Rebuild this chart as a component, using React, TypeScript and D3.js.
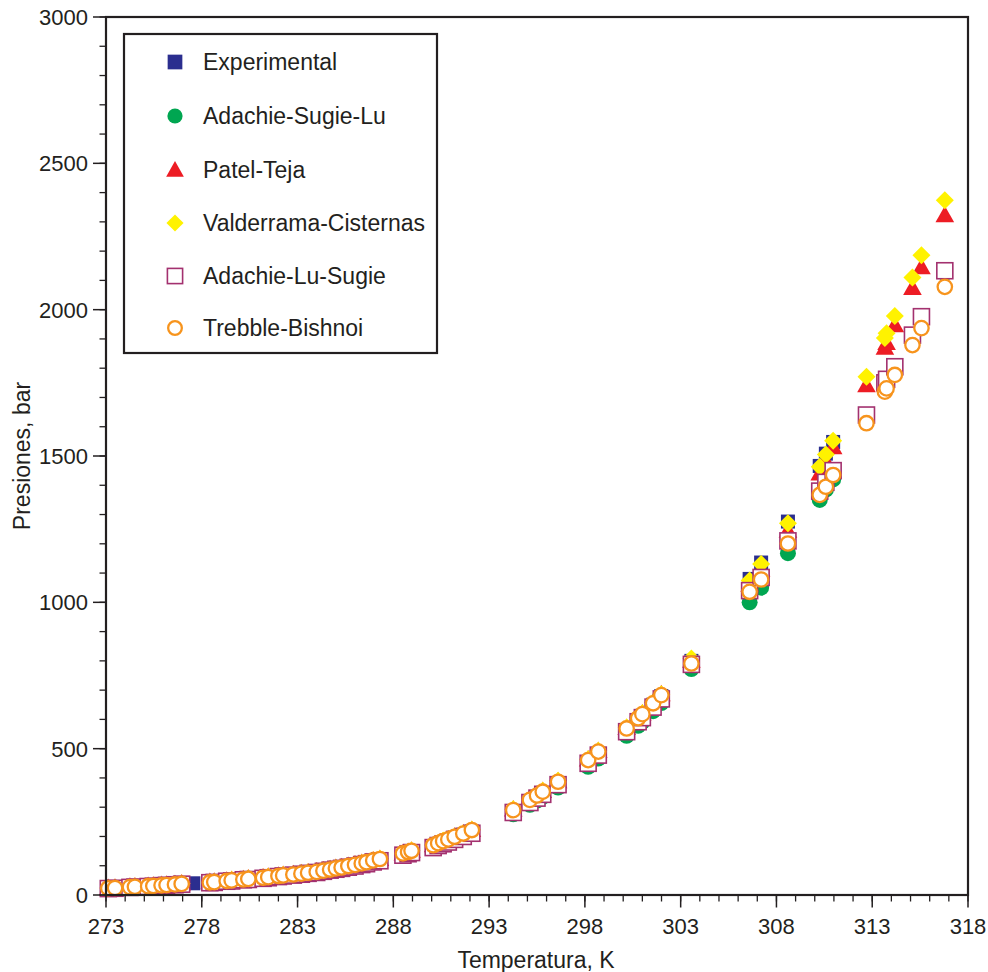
import React from "react";
import * as d3 from "d3";

const temperatures = [
  273.12, 273.47, 274.25, 274.51, 275.2, 275.47, 275.9, 276.16, 276.6, 276.95,
  277.56, 278.42, 278.65, 279.3, 279.56, 280.17, 280.43, 281.2, 281.47, 282.0,
  282.25, 282.78, 283.2, 283.55, 284.0, 284.35, 284.7, 285.0, 285.3, 285.65,
  286.0, 286.35, 286.6, 286.95, 287.3,
  288.5, 288.77, 288.95, 290.08, 290.34,
  290.6, 290.87, 291.2, 291.65, 292.1, 294.26, 295.13, 295.5, 295.8, 296.6,
  298.17, 298.7, 300.18, 300.78, 301.0, 301.56, 301.99, 303.56, 306.6, 307.2,
  308.6, 310.26, 310.58, 310.96, 312.7, 313.66, 313.75, 314.18, 315.1, 315.57,
  316.79,
];

const experimental = [
  24, 25, 27, 29, 31, 32, 34, 35, 37, 39,
  40, 44, 45, 49, 51, 54, 56, 60, 62, 66,
  68, 71, 74, 77, 80, 84, 88, 91, 94, 98,
  102, 107, 111, 116, 121,
  140, 145, 149, 166, 173,
  180, 186, 195, 206, 217, 284, 318, 333, 346, 380,
  452, 481, 562, 598, 612, 650, 680, 800, 1080, 1136,
  1276, 1466, 1508, 1548, 1640, 1750, 1762, 1805, 1913, 1976,
  2133,
];

const adachieSugieLu = [
  22, 23, 26, 27, 29, 30, 32, 33, 35, 37,
  null, 42, 43, 47, 49, 52, 54, 58, 60, 64,
  65, 68, 71, 74, 77, 81, 85, 88, 92, 96,
  100, 105, 108, 114, 118,
  137, 142, 146, 163, 170,
  176, 182, 191, 201, 212, 276, 308, 323, 335, 367,
  438, 466, 544, 578, 592, 628, 656, 772, 1000, 1050,
  1168, 1350, 1385, 1420, 1630, 1740, 1752, 1795, 1900, 1965,
  2125,
];

const patelTeja = [
  24, 25, 28, 29, 31, 32, 34, 35, 37, 39,
  null, 44, 45, 49, 51, 54, 56, 60, 62, 66,
  68, 71, 74, 77, 80, 84, 88, 92, 95, 99,
  104, 109, 112, 118, 123,
  142, 147, 151, 170, 177,
  184, 190, 199, 210, 222, 292, 327, 342, 355, 389,
  463, 492, 571, 606, 620, 657, 686, 800, 1060, 1112,
  1245, 1440, 1482, 1530, 1742, 1870, 1886, 1947, 2074, 2145,
  2323,
];

const valderramaCisternas = [
  24, 25, 28, 29, 31, 32, 34, 35, 37, 39,
  null, 44, 45, 49, 51, 54, 56, 60, 62, 66,
  68, 71, 75, 78, 81, 85, 89, 93, 95, 100,
  104, 109, 113, 119, 124,
  143, 148, 152, 171, 178,
  185, 191, 200, 211, 223, 293, 328, 343, 356, 390,
  464, 493, 572, 607, 621, 658, 686, 808, 1075, 1131,
  1270, 1463, 1505, 1552, 1771, 1903, 1919, 1978, 2110, 2186,
  2374,
];

const adachieLuSugie = [
  22, 23, 26, 27, 29, 30, 32, 33, 35, 37,
  null, 42, 43, 47, 48, 52, 53, 57, 59, 63,
  65, 68, 71, 74, 77, 81, 85, 88, 91, 95,
  99, 104, 107, 113, 117,
  136, 141, 145, 162, 169,
  175, 181, 190, 200, 211, 282, 316, 331, 344, 377,
  450, 478, 558, 592, 606, 642, 670, 788, 1040, 1085,
  1210, 1380, 1410, 1450, 1640, 1750, 1762, 1805, 1913, 1976,
  2133,
];

const trebbleBishnoi = [
  23, 24, 27, 28, 30, 31, 33, 34, 36, 38,
  null, 43, 44, 48, 50, 53, 55, 59, 61, 65,
  67, 70, 73, 76, 79, 83, 87, 91, 94, 99,
  103, 108, 112, 118, 123,
  142, 147, 151, 170, 177,
  184, 190, 199, 210, 222, 290, 325, 340, 353, 387,
  461, 490, 569, 604, 618, 655, 683, 791, 1036, 1078,
  1201, 1367, 1395, 1435, 1612, 1720, 1731, 1777, 1879, 1937,
  2078,
];

const seriesNames = [
  "Experimental",
  "Adachie-Sugie-Lu",
  "Patel-Teja",
  "Valderrama-Cisternas",
  "Adachie-Lu-Sugie",
  "Trebble-Bishnoi",
];

const xTicks = [273, 278, 283, 288, 293, 298, 303, 308, 313, 318];
const yTicks = [0, 500, 1000, 1500, 2000, 2500, 3000];

const FONT = "'Liberation Sans', Arial, Helvetica, sans-serif";
const TEXT = "#231f20";

type Kind = "sq" | "circ" | "tri" | "dia" | "osq" | "ocirc";

function Marker({ kind, x, y, s = 1 }: { kind: Kind; x: number; y: number; s?: number }) {
  if (kind === "sq") {
    const h = 7 * s;
    return <rect x={x - h} y={y - h} width={2 * h} height={2 * h} fill="#2b2e8f" />;
  }
  if (kind === "circ") {
    return <circle cx={x} cy={y} r={8 * s} fill="#00a651" />;
  }
  if (kind === "tri") {
    const w = 9.3 * s;
    return (
      <path
        d={`M${x},${y - 9.5 * s}L${x + w},${y + 7 * s}L${x - w},${y + 7 * s}Z`}
        fill="#ed1c24"
      />
    );
  }
  if (kind === "dia") {
    const r = 9 * s;
    return (
      <path
        d={`M${x},${y - r}L${x + r},${y}L${x},${y + r}L${x - r},${y}Z`}
        fill="#fff200"
      />
    );
  }
  if (kind === "osq") {
    const h = 8 * s;
    return (
      <rect
        x={x - h}
        y={y - h}
        width={2 * h}
        height={2 * h}
        fill="#ffffff"
        stroke="#a3316f"
        strokeWidth={1.6}
      />
    );
  }
  return <circle cx={x} cy={y} r={7.2 * s} fill="#ffffff" stroke="#f7941d" strokeWidth={2.3} />;
}

export default function App() {
  const W = 988;
  const H = 972;
  const left = 106;
  const right = 968;
  const top = 17;
  const bottom = 895;

  const x = d3.scaleLinear().domain([273, 318]).range([left, right]);
  const y = d3.scaleLinear().domain([0, 3000]).range([bottom, top]);

  const xMinor = d3.range(273, 318.01, 1);
  const yMinor = d3.range(0, 3000.01, 100);

  const series: { kind: Kind; values: (number | null)[] }[] = [
    { kind: "sq", values: experimental },
    { kind: "circ", values: adachieSugieLu },
    { kind: "tri", values: patelTeja },
    { kind: "dia", values: valderramaCisternas },
    { kind: "osq", values: adachieLuSugie },
    { kind: "ocirc", values: trebbleBishnoi },
  ];

  const legendRows = [62, 116, 170, 223, 276, 328];

  return (
    <svg
      width={W}
      height={H}
      style={{ position: "absolute", left: 0, top: 0, background: "#fff" }}
      fontFamily={FONT}
    >
      <rect x={0} y={0} width={W} height={H} fill="#ffffff" />

      {series.map((s, si) => (
        <g key={si}>
          {s.values.map((v, i) =>
            v == null ? null : (
              <Marker key={i} kind={s.kind} x={x(temperatures[i])} y={y(v)} />
            )
          )}
        </g>
      ))}

      <rect
        x={left}
        y={top}
        width={right - left}
        height={bottom - top}
        fill="none"
        stroke="#231f20"
        strokeWidth={2.2}
      />

      {xMinor.map((t) => (
        <line key={"xm" + t} x1={x(t)} x2={x(t)} y1={bottom} y2={bottom + 6.5} stroke="#231f20" strokeWidth={1.3} />
      ))}
      {xTicks.map((t) => (
        <g key={"x" + t}>
          <line x1={x(t)} x2={x(t)} y1={bottom} y2={bottom + 12.5} stroke="#231f20" strokeWidth={1.5} />
          <text x={x(t)} y={934} textAnchor="middle" fontSize={22} fill={TEXT}>
            {t}
          </text>
        </g>
      ))}

      {yMinor.map((t) => (
        <line key={"ym" + t} x1={left - 6.5} x2={left} y1={y(t)} y2={y(t)} stroke="#231f20" strokeWidth={1.3} />
      ))}
      {yTicks.map((t) => (
        <g key={"y" + t}>
          <line x1={left - 13} x2={left} y1={y(t)} y2={y(t)} stroke="#231f20" strokeWidth={1.5} />
          <text x={88} y={y(t) + 8} textAnchor="end" fontSize={22} fill={TEXT}>
            {t}
          </text>
        </g>
      ))}

      <text x={536} y={968} textAnchor="middle" fontSize={23} fill={TEXT}>
        Temperatura, K
      </text>
      <text
        transform={`translate(30, ${(top + bottom) / 2}) rotate(-90)`}
        textAnchor="middle"
        fontSize={23}
        fill={TEXT}
      >
        Presiones, bar
      </text>

      <rect x={124} y={34} width={313} height={319} fill="#ffffff" stroke="#231f20" strokeWidth={2.2} />
      {seriesNames.map((name, i) => (
        <g key={name}>
          <Marker kind={series[i].kind} x={175} y={legendRows[i]} s={i === 0 ? 1.05 : 0.95} />
          <text x={203} y={legendRows[i] + 8} fontSize={23} fill={TEXT}>
            {name}
          </text>
        </g>
      ))}
    </svg>
  );
}
